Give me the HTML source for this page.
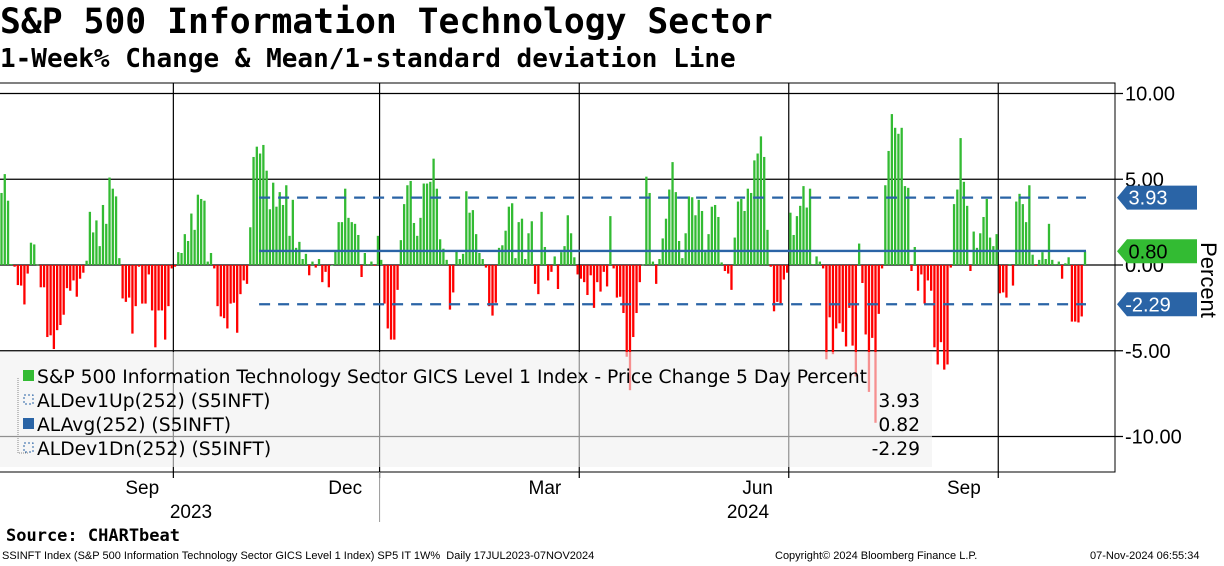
<!DOCTYPE html>
<html><head><meta charset="utf-8">
<style>
html,body{margin:0;padding:0;background:#fff;}
body{width:1224px;height:566px;overflow:hidden;position:relative;font-family:"Liberation Sans",sans-serif;}
.t{position:absolute;white-space:nowrap;}
</style></head>
<body>
<div class="t" style="left:0;top:2px;font:bold 34.7px 'DejaVu Sans Mono',monospace;color:#000;">S&amp;P 500 Information Technology Sector</div>
<div class="t" style="left:0;top:44px;font:bold 26px 'DejaVu Sans Mono',monospace;color:#000;">1-Week% Change &amp; Mean/1-standard deviation Line</div>
<svg id="chart" width="1224" height="566" style="position:absolute;left:0;top:0" xmlns="http://www.w3.org/2000/svg"></svg>
<div class="t" style="left:6px;top:526px;font:bold 17px 'DejaVu Sans Mono',monospace;">Source: CHARTbeat</div>
<div class="t" style="left:2px;top:550px;font-size:11px;">SSINFT Index (S&amp;P 500 Information Technology Sector GICS Level 1 Index) SP5 IT 1W%&nbsp; Daily 17JUL2023-07NOV2024</div>
<div class="t" style="left:775px;top:550px;font-size:11px;">Copyright© 2024 Bloomberg Finance L.P.</div>
<div class="t" style="left:1090px;top:550px;font-size:11px;">07-Nov-2024 06:55:34</div>
<script>
const values = [4.2,5.3,3.75,0.05,-0.1,-1.17,-1.2,-2.3,-0.5,1.3,1.2,0.02,-1.3,-1.3,-4.2,-4.1,-4.9,-3.8,-3.5,-2.9,-1.35,-1.5,-0.9,-1.85,-0.8,-0.45,0.25,3.1,1.9,2.6,1.1,3.5,2.4,5.1,4.45,4.0,0.4,-1.95,-2.15,-1.9,-4.0,-2.4,-0.1,-2.25,-2.25,-0.55,-2.65,-4.8,-2.65,-2.65,-4.35,-2.4,-0.2,-0.1,0.75,0.7,1.8,1.4,3.0,2.05,4.1,3.85,3.75,0.2,0.7,-0.2,-2.4,-3.0,-3.1,-3.7,
-2.25,-2.2,-3.95,-1.7,-0.9,-1.1,2.2,6.3,6.9,6.5,7.0,5.5,3.25,4.8,3.4,4.25,3.5,4.65,1.7,3.8,1.0,1.35,0.35,0.65,-0.6,0.2,-0.15,0.35,-1.0,-0.4,-1.3,0.0,0.8,2.5,2.5,4.45,2.75,2.5,2.4,1.75,-0.7,0.7,0.05,0.2,-0.05,1.7,0.3,-2.25,-3.7,-4.35,-4.35,-1.45,1.45,3.55,4.65,4.9,2.45,1.7,2.75,4.75,4.75,4.85,6.2,4.45,1.5,0.95,0.3,-2.6,-1.6,
0.8,0.35,0.65,4.3,3.05,3.2,1.8,0.7,0.35,-0.15,-2.4,-2.95,-2.2,1.0,1.15,2.0,3.4,3.6,0.4,2.5,2.7,0.35,1.85,2.55,-1.1,-1.7,3.1,1.05,-0.9,-0.4,0.5,-1.4,0.75,1.1,2.9,1.85,0.45,-0.55,-0.8,-1.0,-1.75,-0.6,-2.5,-1.0,-1.55,-0.4,-1.25,2.85,-0.2,-1.9,-1.85,-2.8,-5.35,-7.3,-4.2,-2.8,-1.0,0.02,5.15,4.2,0.2,-1.1,0.35,1.55,2.7,4.4,6.0,4.25,1.4,
0.4,1.85,4.0,3.95,2.9,3.8,3.15,0.75,1.8,3.4,3.5,2.8,0.15,-0.35,-0.5,-1.45,1.6,3.7,3.85,3.15,4.45,4.2,6.1,6.5,7.5,6.3,2.05,-0.1,-2.7,-2.15,-2.25,-0.85,-0.45,3.05,1.75,2.85,3.45,4.6,3.35,4.45,0.05,0.5,0.2,-0.2,-5.5,-3.05,-5.2,-3.7,-3.4,-3.9,-4.75,-2.5,-4.7,-6.5,1.25,-1.05,-4.05,-7.4,-4.25,-9.2,-2.85,-0.2,4.65,6.65,8.8,8.0,7.65,8.0,
4.6,4.5,-0.35,1.05,-1.5,-0.55,-2.25,-0.9,-1.5,-4.8,-5.8,-4.5,-6.1,-5.8,-0.15,3.55,4.4,7.4,4.85,3.45,-0.35,1.95,1.0,1.85,2.8,3.85,1.6,1.1,1.8,-1.65,-1.6,-1.9,0.05,-1.2,3.7,4.15,3.55,2.5,4.65,0.6,-0.05,0.3,0.75,0.35,2.4,0.3,0.05,0.2,-0.8,0.1,0.45,-3.3,-3.3,-3.35,-3.0,0.8];
const yTicks = [10,5,0,-5,-10];
const yTickLabels = ["10.00","5.00","0.00","-5.00","-10.00"];
const monthLabels = ["Sep","Dec","Mar","Jun","Sep"];
const monthIdx = [43,105,166,231,294];
const quarterIdx = [53,116,177,241,305];
const yearLabels = ["2023","2024"];
const avgVal = 0.82, upVal = 3.93, dnVal = -2.29, lastVal = 0.80;
const bandStart = 79;

const NS="http://www.w3.org/2000/svg";
const svg=document.getElementById('chart');
const PL=0, PR=1115, PT=83, PB=472;
const xS = i => 1.5 + i*(1085-1.5)/(values.length-1);
const yS = v => 265 - v*17.15;
function mk(tag, attrs, parent){const e=document.createElementNS(NS,tag);for(const k in attrs)e.setAttribute(k,attrs[k]);(parent||svg).appendChild(e);return e;}

const fr=mk('path',{d:`M0 ${PT}H${PR}V${PB}H0`,fill:'none',stroke:'#000','stroke-width':1});


yTicks.forEach((t,i)=>{
  const g=mk('line',{x1:0,x2:PR+8,y1:yS(t),y2:yS(t),stroke:'#000','stroke-width':1.3});
  
  
  const tx=mk('text',{x:1125,y:yS(t)+7,'font-size':20,'font-family':'Liberation Sans, sans-serif',fill:'#000'});
  tx.textContent=yTickLabels[i];
  
  
});
quarterIdx.forEach(q=>{
  const x=(xS(q)+xS(q-1))/2;
  const g=mk('line',{x1:x,x2:x,y1:PT,y2:PB+6,stroke:'#000','stroke-width':1.2});
  
  
});
values.forEach((v,i)=>{
  const y0=yS(0), y1=yS(v);
  const b=mk('rect',{x:xS(i)-1.15,y:Math.min(y0,y1),width:2.3,height:Math.max(0.6,Math.abs(y1-y0)),fill:v>=0?'#33bb33':'#ff0000'});
  
  
});
const xa=xS(bandStart)-1, xb=xS(values.length-1)+1;
const up=mk('line',{x1:xa,x2:xb,y1:yS(upVal),y2:yS(upVal),stroke:'#2a64a6','stroke-width':2.3,'stroke-dasharray':'11 8'});


const dn=mk('line',{x1:xa,x2:xb,y1:yS(dnVal),y2:yS(dnVal),stroke:'#2a64a6','stroke-width':2.3,'stroke-dasharray':'11 8'});


const av=mk('line',{x1:xa,x2:xb,y1:yS(avgVal),y2:yS(avgVal),stroke:'#2a64a6','stroke-width':2.3});



const lg=mk('rect',{x:0,y:352,width:932,height:115,fill:'rgba(240,240,240,0.6)'});


const leg=[["S&P 500 Information Technology Sector GICS Level 1 Index - Price Change 5 Day Percent","",'#33bb33'],["ALDev1Up(252) (S5INFT)",upVal.toFixed(2),null],["ALAvg(252) (S5INFT)",avgVal.toFixed(2),'#2a64a6'],["ALDev1Dn(252) (S5INFT)",dnVal.toFixed(2),null]];
leg.forEach((r,i)=>{
  const y=383+i*24;
  if(r[2]){const s=mk('rect',{x:23,y:y-13,width:11,height:11,fill:r[2]});}
  else{const s=mk('rect',{x:24,y:y-12,width:9,height:9,fill:'none',stroke:'#2a64a6','stroke-dasharray':'2 2'});}
  const t=mk('text',{x:37,y:y,'font-size':18.7,'font-family':'DejaVu Sans, sans-serif',fill:'#000'});
  t.textContent=r[0];
  
  
  if(r[1]){const v=mk('text',{x:920,y:y,'font-size':18.7,'font-family':'DejaVu Sans, sans-serif','text-anchor':'end',fill:'#000'});v.textContent=r[1];}
});
mk('path',{d:'M18 378V453H28',fill:'none',stroke:'#888','stroke-width':1,'stroke-dasharray':'1 1'});
[[upVal,'#2a64a6',upVal.toFixed(2),'#fff'],[lastVal,'#33bb33',lastVal.toFixed(2),'#000'],[dnVal,'#2a64a6',dnVal.toFixed(2),'#fff']].forEach(b=>{
  const y=yS(b[0]);
  const p=mk('path',{d:`M1117 ${y}L1127 ${y-12}H1197V${y+12}H1127Z`,fill:b[1]});
  
  
  const t=mk('text',{x:1148,y:y+7,'font-size':20,'font-family':'Liberation Sans, sans-serif','text-anchor':'middle',fill:b[3]});
  t.textContent=b[2];
  
  
});
const yt=mk('text',{x:1201,y:280,'font-size':22,'font-family':'Liberation Sans, sans-serif','text-anchor':'middle',transform:'rotate(90 1201 280)'});
yt.textContent='Percent';


monthLabels.forEach((m,i)=>{
  const t=mk('text',{x:xS(monthIdx[i]),y:494,'font-size':19,'font-family':'Liberation Sans, sans-serif','text-anchor':'middle'});
  t.textContent=m;
  
  
});
const yx=[191,748];
yearLabels.forEach((m,i)=>{
  const t=mk('text',{x:yx[i],y:518,'font-size':19,'font-family':'Liberation Sans, sans-serif','text-anchor':'middle'});
  t.textContent=m;
  
  
});
const ysep=(xS(quarterIdx[1])+xS(quarterIdx[1]-1))/2;
mk('line',{x1:ysep,x2:ysep,y1:PB,y2:522,stroke:'#999','stroke-width':1});
</script>
</body></html>
